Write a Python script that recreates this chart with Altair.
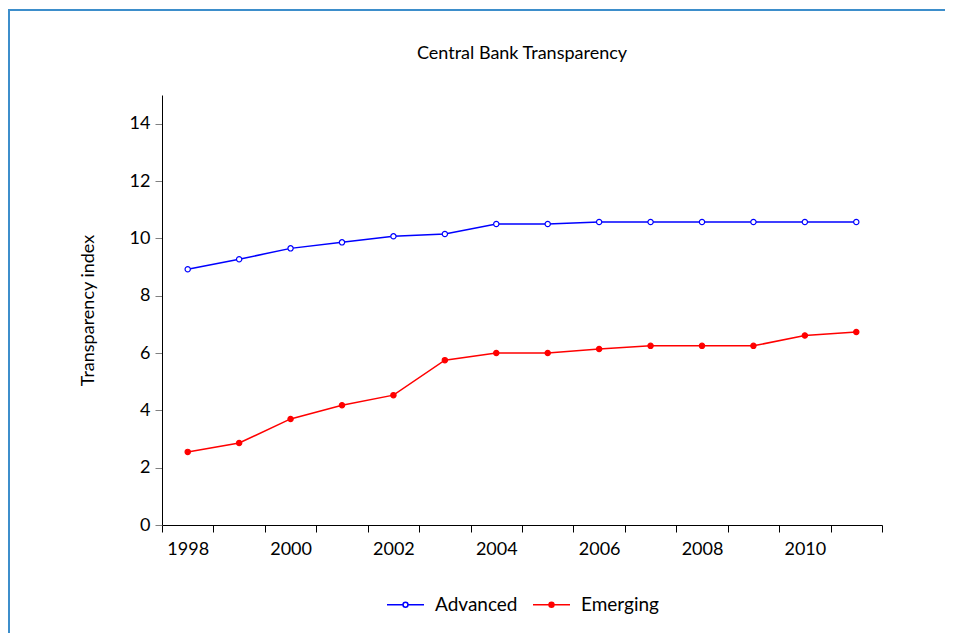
import altair as alt
import pandas as pd

years = [str(y) for y in range(1998, 2012)]
advanced = [8.92, 9.27, 9.65, 9.86, 10.07, 10.15, 10.50, 10.50, 10.57, 10.57, 10.57, 10.57, 10.57, 10.57]
emerging = [2.55, 2.86, 3.70, 4.18, 4.53, 5.75, 6.00, 6.00, 6.14, 6.25, 6.25, 6.25, 6.61, 6.73]
series_names = ["Advanced", "Emerging"]
line_colors = ["#0000FF", "#FF0000"]
fill_colors = ["#FFFFFF", "#FF0000"]
y_ticks = [0, 2, 4, 6, 8, 10, 12, 14]
title_text = ["Central Bank Transparency"]

rows = []
for name, vals in zip(series_names, [advanced, emerging]):
    for yr, v in zip(years, vals):
        rows.append({"Year": yr, "Series": name, "Value": v})
df = pd.DataFrame(rows)

FONT = "Lato"

x_enc = alt.X(
    "Year:O",
    scale=alt.Scale(type="band", paddingInner=0, paddingOuter=0),
    axis=alt.Axis(
        title=None, tickBand="extent", labelAngle=0, labelOverlap=False,
        labelExpr="toNumber(datum.value) % 2 == 0 ? datum.label : ''",
        tickSize=7, labelPadding=8, labelFontSize=18, labelFont=FONT,
        labelColor="#000000", domainColor="#000000", tickColor="#000000",
        grid=False,
    ),
)
y_enc = alt.Y(
    "Value:Q",
    scale=alt.Scale(domain=[0, 15], nice=False),
    axis=alt.Axis(
        title="Transparency index", values=y_ticks, tickSize=7, labelPadding=5,
        labelFontSize=18, labelFont=FONT, labelColor="#000000",
        titleFont=FONT, titleFontSize=18, titleFontWeight="normal",
        titleColor="#000000", titlePadding=32,
        domainColor="#000000", tickColor="#808080", grid=False,
    ),
)

stroke_scale = alt.Scale(domain=series_names, range=line_colors)
fill_scale = alt.Scale(domain=series_names, range=fill_colors)

legend = alt.Legend(
    title=None, orient="none", direction="horizontal", legendX=234, legendY=500,
    symbolType="M-3,0L-0.4,0M0.4,0L3,0M-0.4,0A0.4,0.4,0,1,1,0.4,0A0.4,0.4,0,1,1,-0.4,0Z",
    symbolSize=152, symbolStrokeWidth=1.5, labelFont=FONT, labelFontSize=19,
    labelColor="#000000", labelOffset=20, columnPadding=12,
)

frame = alt.Chart(pd.DataFrame({"a": [0]})).mark_rect(
    fill=None, stroke="#3d8ecb", strokeWidth=2
).encode(
    x=alt.value(-153), x2=alt.value(1000), y=alt.value(-85), y2=alt.value(800)
)

title = alt.Chart(pd.DataFrame({"t": title_text})).mark_text(
    font=FONT, fontSize=18, color="#000000", align="center", baseline="middle"
).encode(
    text="t:N", x=alt.value(360), y=alt.value(-41)
)

line = alt.Chart(df).mark_line(strokeWidth=1.5).encode(
    x=x_enc, y=y_enc,
    stroke=alt.Stroke("Series:N", scale=stroke_scale, legend=legend),
)
points = alt.Chart(df).mark_point(filled=True, size=28, strokeWidth=1.2, opacity=1).encode(
    x=x_enc, y=y_enc,
    stroke=alt.Stroke("Series:N", scale=stroke_scale, legend=legend),
    fill=alt.Fill("Series:N", scale=fill_scale, legend=legend),
)

chart = alt.layer(frame, title, line, points).properties(
    width=720, height=430,
    autosize=alt.AutoSizeParams(type="none"),
    padding={"left": 154, "top": 87, "right": 63, "bottom": 108},
).configure_view(stroke=None)

chart.save("out.html", embed_options={"renderer": "svg", "actions": False})
